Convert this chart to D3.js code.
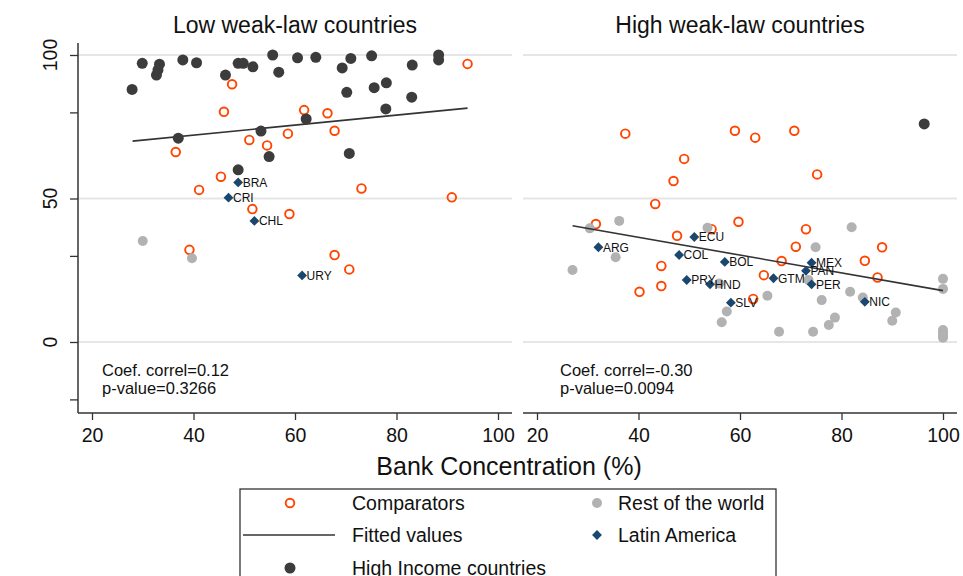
<!DOCTYPE html>
<html>
<head>
<meta charset="utf-8">
<script src="https://cdn.jsdelivr.net/npm/d3@7"></script>
<style>
  html, body { margin: 0; padding: 0; background: #fff; }
  text { font-family: "Liberation Sans", Arial, sans-serif; }
</style>
</head>
<body>
<svg id="chart" width="963" height="576"></svg>
<script>
// Bank concentration (x) vs. outcome (y), split by weak-law group.

const xTicks = [20, 40, 60, 80, 100];
const yLabelTicks = [0, 50, 100];
const yMinorTicks = [-20, 30, 80];

const panelTitles = ["Low weak-law countries", "High weak-law countries"];
const coefTexts = [["Coef. correl=0.12", "p-value=0.3266"], ["Coef. correl=-0.30", "p-value=0.0094"]];

// ---- Low weak-law panel ----
const lowComparators = [
  [47.6, 89.8], [46.0, 80.2], [36.5, 66.2], [51.0, 70.4], [54.5, 68.5], [58.6, 72.6],
  [61.8, 80.8], [66.4, 79.7], [67.8, 73.6], [94.0, 96.9], [45.4, 57.6], [41.1, 53.0],
  [51.6, 46.3], [58.9, 44.6], [39.2, 32.1], [73.1, 53.5], [90.9, 50.4], [67.8, 30.3],
  [70.7, 25.3]
];
const lowRest = [[30.0, 35.2], [39.7, 29.2]];
const lowHighIncome = [
  [27.9, 88.0], [29.9, 97.1], [33.3, 96.8], [33.0, 94.8], [32.7, 93.0], [37.9, 98.3],
  [40.6, 97.3], [46.3, 93.0], [48.8, 97.1], [49.8, 97.1], [51.7, 95.9], [55.6, 100.0],
  [56.8, 94.0], [60.5, 99.0], [64.1, 99.2], [71.0, 98.8], [69.3, 95.5], [75.1, 99.7],
  [83.1, 96.5], [88.3, 100.0], [88.3, 98.3], [70.2, 87.0], [75.6, 88.6], [78.0, 90.3],
  [83.0, 85.3], [77.9, 81.2], [62.2, 77.7], [70.7, 65.7], [37.0, 71.0], [53.3, 73.5],
  [54.9, 64.6], [48.8, 60.0]
];
const lowLatam = [
  ["BRA", 48.8, 55.6], ["CRI", 46.9, 50.3], ["CHL", 52.0, 42.2], ["URY", 61.4, 23.2]
];
const lowFit = [[28, 70.0], [94, 81.5]];

// ---- High weak-law panel ----
const highComparators = [
  [37.4, 72.6], [59.0, 73.6], [49.0, 63.8], [46.9, 56.1], [43.3, 48.1], [63.0, 71.2],
  [70.7, 73.6], [75.2, 58.4], [31.6, 41.1], [47.6, 37.0], [44.5, 26.5], [44.5, 19.5],
  [40.2, 17.5], [54.4, 39.3], [59.7, 41.9], [73.0, 39.3], [71.0, 33.2], [68.2, 28.2],
  [64.7, 23.3], [62.6, 15.0], [84.6, 28.3], [88.0, 33.0], [87.1, 22.5]
];
const highRest = [
  [30.4, 39.6], [36.2, 42.2], [35.5, 29.5], [27.0, 25.1], [53.6, 39.8], [55.9, 20.4],
  [57.4, 10.6], [56.4, 6.9], [82.0, 40.0], [74.9, 33.0], [73.5, 21.6], [65.4, 16.1],
  [76.1, 14.6], [81.7, 17.5], [84.2, 15.5], [90.7, 10.3], [90.0, 7.4], [78.7, 8.5],
  [77.5, 5.9], [74.4, 3.6], [67.7, 3.6], [100, 22.0], [100, 18.5], [100, 4.2],
  [100, 3.2], [100, 2.3], [100, 1.5]
];
const highHighIncome = [[96.3, 76.0]];
const highLatam = [
  ["ARG", 32.1, 33.0], ["ECU", 51.0, 36.6], ["COL", 48.0, 30.3], ["BOL", 57.0, 27.9],
  ["PRY", 49.5, 21.6], ["HND", 54.1, 20.1], ["SLV", 58.2, 13.7], ["GTM", 66.6, 22.2],
  ["MEX", 74.1, 27.6], ["PAN", 73.0, 24.8], ["PER", 74.1, 20.1], ["NIC", 84.6, 14.0]
];
const highFit = [[27, 40.5], [100, 17.9]];

const legendItems = ["Comparators", "Rest of the world", "Fitted values", "Latin America", "High Income countries"];

// ---- styling ----
const C = {
  orange: "#ff4500",
  dark: "#3c3c3c",
  rest: "#b2b2b2",
  navy: "#1a476f",
  grid: "#e6e6e6",
  axis: "#333333",
  fit: "#333333",
  text: "#111111"
};

const svg = d3.select("#chart");

const panels = [
  { x0: 78, x1: 512, yAxis: true, title: panelTitles[0], coef: coefTexts[0], coefX: 102,
    comp: lowComparators, rest: lowRest, hi: lowHighIncome, latam: lowLatam, fit: lowFit },
  { x0: 523, x1: 957, yAxis: false, title: panelTitles[1], coef: coefTexts[1], coefX: 560,
    comp: highComparators, rest: highRest, hi: highHighIncome, latam: highLatam, fit: highFit }
];

const plotTop = 43, plotBottom = 413;
const y = d3.scaleLinear().domain([0, 100]).range([342, 55]);
const diamond = d3.symbol().type(d3.symbolDiamond2).size(62);

panels.forEach(p => {
  // x range: 20 sits 14px inside the left edge, 100 sits 14px inside the right edge
  const x = d3.scaleLinear().domain([20, 100]).range([p.x0 + 14, p.x1 - 14]);
  const g = svg.append("g");

  // title
  g.append("text")
    .attr("x", (p.x0 + p.x1) / 2).attr("y", 33)
    .attr("text-anchor", "middle")
    .attr("font-size", "23px").attr("fill", C.text)
    .text(p.title);

  // horizontal grid
  g.selectAll(".grid").data(yLabelTicks).join("line")
    .attr("x1", p.x0).attr("x2", p.x1)
    .attr("y1", d => y(d)).attr("y2", d => y(d))
    .attr("stroke", C.grid).attr("stroke-width", 2);

  // x axis
  const xAxis = g.append("g")
    .attr("transform", `translate(0,${plotBottom})`)
    .call(d3.axisBottom(x).tickValues(xTicks).tickSize(7).tickPadding(8).tickSizeOuter(0));
  xAxis.select(".domain").attr("d", `M${p.x0},0H${p.x1}`).attr("stroke", C.axis).attr("stroke-width", 1.5);
  xAxis.selectAll(".tick line").attr("stroke", C.axis).attr("stroke-width", 1.3);
  xAxis.selectAll(".tick text")
    .attr("font-size", "19.5px").attr("fill", C.text)
    .attr("font-family", "Liberation Sans, Arial, sans-serif");

  // y axis (left panel only)
  if (p.yAxis) {
    const yAxis = g.append("g")
      .attr("transform", `translate(${p.x0},0)`)
      .call(d3.axisLeft(y).tickValues(yLabelTicks.concat(yMinorTicks)).tickSize(8).tickFormat("").tickSizeOuter(0));
    yAxis.select(".domain").attr("d", `M0,${plotTop}V${plotBottom}`).attr("stroke", C.axis).attr("stroke-width", 1.5);
    yAxis.selectAll(".tick line").attr("stroke", C.axis).attr("stroke-width", 1.3);
    g.selectAll(".ylab").data(yLabelTicks).join("text")
      .attr("transform", d => `translate(50,${y(d)}) rotate(-90)`)
      .attr("text-anchor", "middle").attr("dy", "0.36em")
      .attr("font-size", "19.5px").attr("fill", C.text)
      .text(d => d);
  }

  // comparators (hollow circles)
  g.selectAll(".comp").data(p.comp).join("circle")
    .attr("cx", d => x(d[0])).attr("cy", d => y(d[1])).attr("r", 4.3)
    .attr("fill", "none").attr("stroke", C.orange).attr("stroke-width", 1.9);

  // rest of the world
  g.selectAll(".rest").data(p.rest).join("circle")
    .attr("cx", d => x(d[0])).attr("cy", d => y(d[1])).attr("r", 5)
    .attr("fill", C.rest);

  // fitted line
  g.append("path")
    .datum(p.fit)
    .attr("d", d3.line().x(d => x(d[0])).y(d => y(d[1])))
    .attr("fill", "none").attr("stroke", C.fit).attr("stroke-width", 1.6);

  // Latin America (diamonds + labels)
  g.selectAll(".latam").data(p.latam).join("path")
    .attr("d", diamond)
    .attr("transform", d => `translate(${x(d[1])},${y(d[2])})`)
    .attr("fill", C.navy);
  g.selectAll(".latlab").data(p.latam).join("text")
    .attr("x", d => x(d[1]) + 4.5).attr("y", d => y(d[2]))
    .attr("dy", "0.36em")
    .attr("font-size", "12px").attr("fill", C.text)
    .text(d => d[0]);

  // high income countries
  g.selectAll(".hi").data(p.hi).join("circle")
    .attr("cx", d => x(d[0])).attr("cy", d => y(d[1])).attr("r", 5.5)
    .attr("fill", C.dark);

  // correlation note
  g.selectAll(".coef").data(p.coef).join("text")
    .attr("x", p.coefX).attr("y", (d, i) => 376 + i * 18)
    .attr("font-size", "16.5px").attr("fill", C.text)
    .text(d => d);
});

// x axis title
svg.append("text")
  .attr("x", 509).attr("y", 475)
  .attr("text-anchor", "middle")
  .attr("font-size", "25px").attr("fill", C.text)
  .text("Bank Concentration (%)");

// legend
const lg = svg.append("g");
lg.append("rect")
  .attr("x", 240).attr("y", 489).attr("width", 536).attr("height", 120)
  .attr("fill", "#fff").attr("stroke", C.axis).attr("stroke-width", 1.3);

const col1Key = 290, col1Text = 352, col2Key = 597, col2Text = 618;
const rows = [503, 535, 568];

lg.append("circle").attr("cx", col1Key).attr("cy", rows[0]).attr("r", 4.3)
  .attr("fill", "none").attr("stroke", C.orange).attr("stroke-width", 1.9);
lg.append("circle").attr("cx", col2Key).attr("cy", rows[0]).attr("r", 5).attr("fill", C.rest);
lg.append("line").attr("x1", 243).attr("x2", 335).attr("y1", rows[1]).attr("y2", rows[1])
  .attr("stroke", C.fit).attr("stroke-width", 1.6);
lg.append("path").attr("d", diamond)
  .attr("transform", `translate(${col2Key},${rows[1]})`).attr("fill", C.navy);
lg.append("circle").attr("cx", col1Key).attr("cy", rows[2]).attr("r", 5.5).attr("fill", C.dark);

const legendPos = [[col1Text, rows[0]], [col2Text, rows[0]], [col1Text, rows[1]], [col2Text, rows[1]], [col1Text, rows[2]]];
lg.selectAll(".ltxt").data(legendItems).join("text")
  .attr("x", (d, i) => legendPos[i][0]).attr("y", (d, i) => legendPos[i][1])
  .attr("dy", "0.36em")
  .attr("font-size", "19.5px").attr("fill", C.text)
  .text(d => d);
</script>
</body>
</html>
